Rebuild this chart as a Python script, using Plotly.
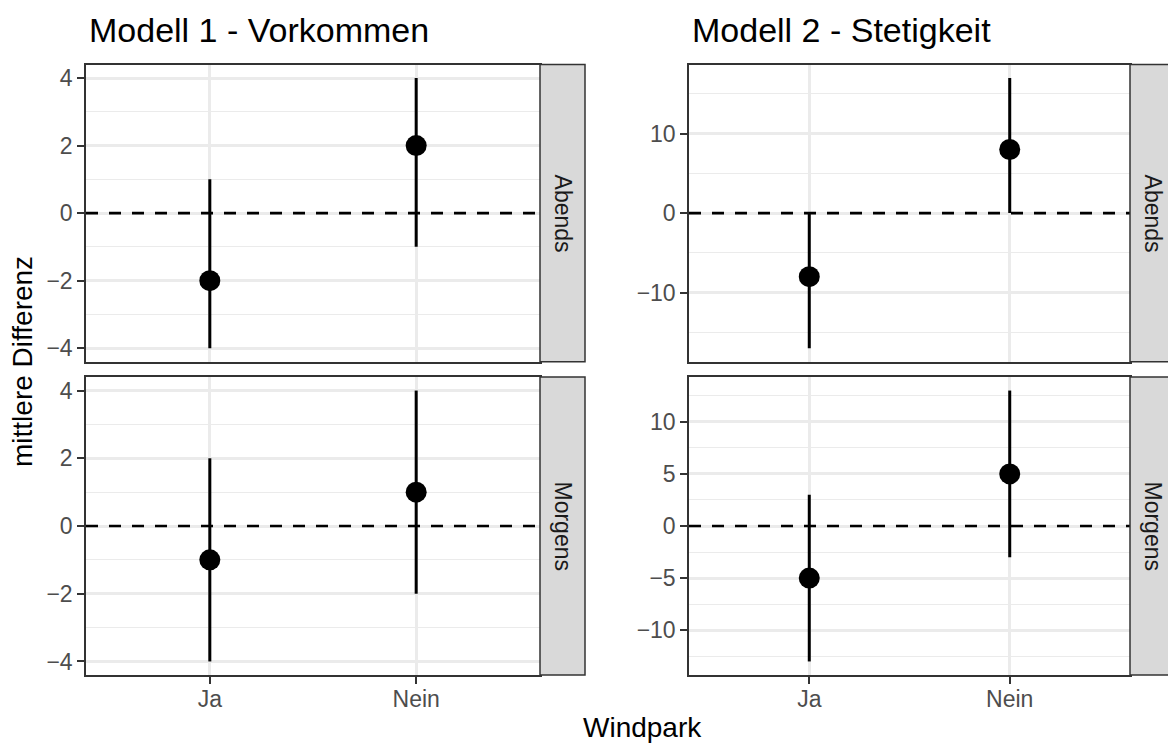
import plotly.graph_objects as go

# ---------------- data ----------------
categories = ["Ja", "Nein"]
rows = ["Abends", "Morgens"]
titles = ["Modell 1 - Vorkommen", "Modell 2 - Stetigkeit"]

m1_abends_est = [-2, 2]
m1_abends_lo = [-4, -1]
m1_abends_hi = [1, 4]

m1_morgens_est = [-1, 1]
m1_morgens_lo = [-4, -2]
m1_morgens_hi = [2, 4]

m2_abends_est = [-8, 8]
m2_abends_lo = [-17, 0]
m2_abends_hi = [0, 17]

m2_morgens_est = [-5, 5]
m2_morgens_lo = [-13, -3]
m2_morgens_hi = [3, 13]

x_title = "Windpark"
y_title = "mittlere Differenz"

# ---------------- layout constants ----------------
W, H = 1168, 744
FONT = "Liberation Sans, Arial, Helvetica, sans-serif"
GRID = "#EBEBEB"
BORDER = "#333333"

def px_x(p):
    return p / W

def px_y(p):
    return 1 - p / H

col_px = [(86, 540), (689, 1130)]
row_px = [(64.5, 361.7), (377, 675)]
strip_w = 45

panels = [
    # (col, row, est, lo, hi, dtick)
    (0, 0, m1_abends_est, m1_abends_lo, m1_abends_hi, 2),
    (0, 1, m1_morgens_est, m1_morgens_lo, m1_morgens_hi, 2),
    (1, 0, m2_abends_est, m2_abends_lo, m2_abends_hi, 10),
    (1, 1, m2_morgens_est, m2_morgens_lo, m2_morgens_hi, 5),
]

fig = go.Figure()
layout = dict(
    width=W, height=H,
    margin=dict(l=0, r=0, t=0, b=0, pad=0),
    paper_bgcolor="white", plot_bgcolor="white",
    showlegend=False,
    font=dict(family=FONT, color="#4D4D4D"),
)
shapes = []
annotations = []

for i, (c, r, est, lo, hi, dtick) in enumerate(panels):
    n = i + 1
    xa = "x" if n == 1 else f"x{n}"
    ya = "y" if n == 1 else f"y{n}"
    xkey = "xaxis" if n == 1 else f"xaxis{n}"
    ykey = "yaxis" if n == 1 else f"yaxis{n}"

    plus = [h - e for h, e in zip(hi, est)]
    minus = [e - l for e, l in zip(est, lo)]
    fig.add_trace(go.Scatter(
        x=categories, y=est, xaxis=xa, yaxis=ya, mode="markers",
        marker=dict(size=21, color="black"),
        error_y=dict(type="data", symmetric=False, array=plus, arrayminus=minus,
                     width=0, thickness=3, color="black"),
        hoverinfo="x+y",
    ))

    ymin, ymax = min(lo), max(hi)
    span = ymax - ymin
    yr = [ymin - 0.05 * span, ymax + 0.05 * span]

    x0p, x1p = col_px[c]
    t, b = row_px[r]
    bottom = (r == 1)
    layout[xkey] = dict(
        domain=[px_x(x0p), px_x(x1p)], anchor=ya,
        type="category", categoryorder="array", categoryarray=categories,
        range=[-0.6, 1.6], showgrid=True, gridcolor=GRID, gridwidth=2.5,
        zeroline=False, showline=True, mirror=True, linecolor=BORDER, linewidth=1.5,
        showticklabels=bottom, ticks="outside" if bottom else "",
        ticklen=7, tickwidth=1.5, tickcolor=BORDER, ticklabelstandoff=-4,
        tickfont=dict(size=23, color="#4D4D4D", family=FONT),
        fixedrange=True,
    )
    layout[ykey] = dict(
        domain=[px_y(b), px_y(t)], anchor=xa, range=yr,
        tickmode="linear", tick0=0, dtick=dtick,
        showgrid=True, gridcolor=GRID, gridwidth=2.5,
        minor=dict(dtick=dtick / 2, tick0=0, showgrid=True, gridcolor=GRID,
                   gridwidth=1.3, ticks=""),
        zeroline=False, showline=True, mirror=True, linecolor=BORDER, linewidth=1.5,
        ticks="outside", ticklen=7, tickwidth=1.5, tickcolor=BORDER,
        tickfont=dict(size=23, color="#4D4D4D", family=FONT),
        fixedrange=True,
    )

    # dashed reference line at 0
    shapes.append(dict(
        type="line", xref=f"{xa} domain", yref=ya, x0=0, x1=1, y0=0, y1=0,
        line=dict(color="black", width=2.7, dash="12px,11px"), layer="above",
    ))

    # strip
    shapes.append(dict(
        type="rect", xref="paper", yref="paper",
        x0=px_x(x1p), x1=px_x(x1p + strip_w), y0=px_y(b), y1=px_y(t),
        fillcolor="#D9D9D9", line=dict(color=BORDER, width=1.5), layer="above",
    ))
    annotations.append(dict(
        text=rows[r], xref="paper", yref="paper",
        x=px_x(x1p + strip_w / 2), y=px_y((t + b) / 2),
        textangle=90, showarrow=False, xanchor="center", yanchor="middle",
        font=dict(size=23, color="#1A1A1A", family=FONT),
    ))

# panel titles
for c, ttl in enumerate(titles):
    annotations.append(dict(
        text=ttl, xref="paper", yref="paper",
        x=px_x(col_px[c][0] + 1), y=px_y(30),
        xanchor="left", yanchor="middle", showarrow=False,
        font=dict(size=34, color="black", family=FONT),
    ))

# axis titles
annotations.append(dict(
    text=x_title, xref="paper", yref="paper", x=px_x(642), y=px_y(727),
    xanchor="center", yanchor="middle", showarrow=False,
    font=dict(size=28, color="black", family=FONT),
))
annotations.append(dict(
    text=y_title, xref="paper", yref="paper", x=px_x(22), y=px_y(362),
    xanchor="center", yanchor="middle", textangle=-90, showarrow=False,
    font=dict(size=28, color="black", family=FONT),
))

layout["shapes"] = shapes
layout["annotations"] = annotations
fig.update_layout(**layout)

fig.write_html(
    "out.html",
    config={"displayModeBar": False},
    post_script="document.body.style.margin='0';document.body.style.padding='0';",
)
